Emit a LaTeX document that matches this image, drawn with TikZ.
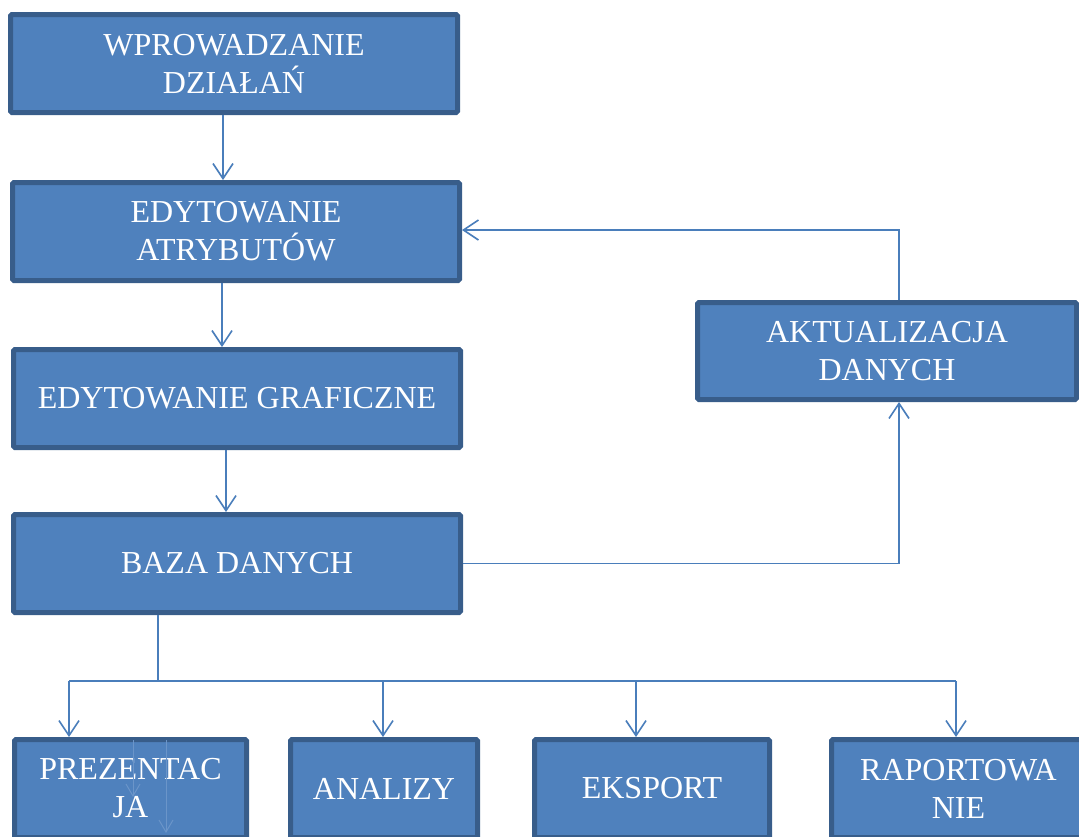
\documentclass[tikz,border=0pt]{standalone}
\usepackage{fontspec}
\setmainfont{Liberation Serif}
\usetikzlibrary{arrows.meta}
\definecolor{boxfill}{HTML}{4F81BD}
\definecolor{boxline}{HTML}{385D8A}
\definecolor{conn}{HTML}{4A7EBB}
\definecolor{ghost}{HTML}{6B95C9}
\begin{document}
\begin{tikzpicture}[x=1pt,y=-1pt,
  box/.style={draw=boxline, fill=boxfill, line width=5pt, rounded corners=1.5pt,
    text=white, align=center, inner sep=0pt,
    font=\fontsize{32}{38}\selectfont},
  arr/.style={draw=conn, line width=1.6pt, -{Straight Barb[length=15pt,width=20pt,line width=1.6pt]}},
  ln/.style={draw=conn, line width=1.6pt},
  ghostarr/.style={draw=ghost, line width=1pt, -{Straight Barb[length=12pt,width=14pt,line width=1pt]}}]
\path[use as bounding box] (0,0) rectangle (1079,836);
\clip (0,0) rectangle (1079,836);
% boxes (sizes = outer size minus border width)
\node[box, minimum width=447pt, minimum height=98pt] (A) at (234,63.5) {WPROWADZANIE\\DZIAŁAŃ};
\node[box, minimum width=447pt, minimum height=98pt] (B) at (236,231.5) {EDYTOWANIE\\ATRYBUTÓW};
\node[box, minimum width=447pt, minimum height=98pt] (C) at (237,398.5) {EDYTOWANIE GRAFICZNE};
\node[box, minimum width=447pt, minimum height=98pt] (D) at (237,563.5) {BAZA DANYCH};
\node[box, minimum width=379pt, minimum height=97pt] (E) at (887,351) {AKTUALIZACJA\\DANYCH};
\node[box, minimum width=232pt, minimum height=98pt] (F) at (130.5,788.5) {PREZENTAC\\JA};
\node[box, minimum width=187pt, minimum height=98pt] (G) at (384,788.5) {ANALIZY};
\node[box, minimum width=235pt, minimum height=98pt] (H) at (652,788.5) {EKSPORT};
\node[box, minimum width=254pt, minimum height=98pt] (I) at (958.5,788.5) {RAPORTOWA\\NIE};
% guide coordinates
\coordinate (xab) at (223,0);
\coordinate (xbc) at (222,0);
\coordinate (xcd) at (226,0);
\coordinate (xe) at (899,0);
\coordinate (xd) at (158,0);
\coordinate (ybus) at (0,681);
\coordinate (xf) at (69,0);
\coordinate (xg) at (383,0);
\coordinate (xh) at (636,0);
\coordinate (xi) at (956,0);
\coordinate (yfb) at (0,230);
% vertical chain
\draw[arr] (A.south -| xab) -- (B.north -| xab);
\draw[arr] (B.south -| xbc) -- (C.north -| xbc);
\draw[arr] (C.south -| xcd) -- (D.north -| xcd);
% feedback loop
\draw[arr] (D.east) -- (D.east -| xe) -- (E.south -| xe);
\draw[arr] (E.north -| xe) -- (yfb -| xe) -- (B.east |- yfb);
% bus to bottom boxes
\draw[ln] (D.south -| xd) -- (ybus -| xd);
\draw[ln] (ybus -| xf) -- (ybus -| xi);
\draw[arr] (ybus -| xf) -- (F.north -| xf);
\draw[arr] (ybus -| xg) -- (G.north -| xg);
\draw[arr] (ybus -| xh) -- (H.north -| xh);
\draw[arr] (ybus -| xi) -- (I.north -| xi);
% faint ghost arrows inside PREZENTACJA
\coordinate (g1a) at (133,740);
\coordinate (g1b) at (133,797);
\coordinate (g2a) at (166,740);
\coordinate (g2b) at (166,833);
\draw[ghostarr] (g1a) -- (g1b);
\draw[ghostarr] (g2a) -- (g2b);
\end{tikzpicture}
\end{document}
